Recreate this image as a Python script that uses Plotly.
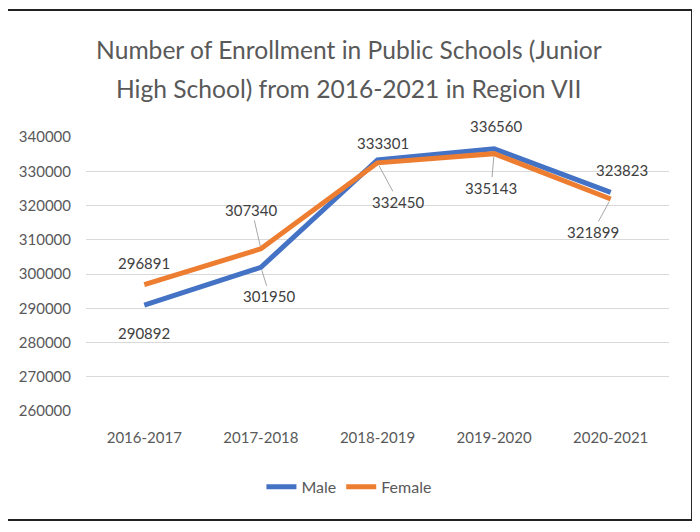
import plotly.graph_objects as go

years = ["2016-2017", "2017-2018", "2018-2019", "2019-2020", "2020-2021"]
male = [290892, 301950, 333301, 336560, 323823]
female = [296891, 307340, 332450, 335143, 321899]

y_ticks = [260000, 270000, 280000, 290000, 300000, 310000, 320000, 330000, 340000]

title_line1 = "Number of Enrollment in Public Schools (Junior"
title_line2 = "High School) from 2016-2021 in Region VII"

# label offsets from the point (px) and whether a leader line is drawn
male_dx = [0, 9, 5, 2, 11]
male_dy = [28, 29, -17, -23, -22]
male_leader = [False, True, False, False, False]
female_dx = [0, -9, 21, -3, -18]
female_dy = [-22, -39, 39, 34, 33]
female_leader = [False, True, True, True, True]

BLUE = "#4472C4"
ORANGE = "#ED7D31"
FONT = "Lato"
CENTER = 0.451  # frame centre in paper units

fig = go.Figure()
fig.add_trace(go.Scatter(x=years, y=male, mode="lines", name="Male",
                         line=dict(color=BLUE, width=5)))
fig.add_trace(go.Scatter(x=years, y=female, mode="lines", name="Female",
                         line=dict(color=ORANGE, width=5)))


def add_labels(values, dxs, dys, leaders):
    for yr, v, dx, dy, lead in zip(years, values, dxs, dys, leaders):
        if lead:
            fig.add_annotation(x=yr, y=v, text=str(v), showarrow=True,
                               ax=dx, ay=dy, arrowhead=0, arrowwidth=1,
                               arrowcolor="#A6A6A6", standoff=3,
                               font=dict(family=FONT, size=15, color="#404040"))
        else:
            fig.add_annotation(x=yr, y=v, text=str(v), showarrow=False,
                               xshift=dx, yshift=-dy,
                               font=dict(family=FONT, size=15, color="#404040"))


add_labels(male, male_dx, male_dy, male_leader)
add_labels(female, female_dx, female_dy, female_leader)

# second title line (Excel-style wide line spacing)
fig.add_annotation(xref="paper", yref="paper", x=CENTER, y=1.1788,
                   xanchor="center", yanchor="middle", showarrow=False,
                   text=title_line2, font=dict(family=FONT, size=24.6, color="#595959"))

# chart frame
fig.add_shape(type="rect", xref="paper", yref="paper",
              x0=-0.137, x1=1.0395, y0=-0.398, y1=1.4635,
              line=dict(color="#222222", width=2))

# the page adds an 8px body margin, so margins are shifted to compensate
fig.update_layout(
    width=700, height=532,
    margin=dict(l=78, r=39, t=129, b=129),
    paper_bgcolor="white", plot_bgcolor="white",
    font=dict(family=FONT, color="#595959"),
    title=dict(text=title_line1, x=CENTER, xanchor="center",
               xref="paper", y=0.921, yanchor="middle",
               font=dict(family=FONT, size=24.6, color="#595959")),
    xaxis=dict(range=[-0.5, 4.5], showgrid=False, showline=False, ticks="",
               ticklabelstandoff=16, tickfont=dict(size=15, color="#595959")),
    yaxis=dict(range=[260000, 340000], tickvals=y_ticks, showgrid=True,
               gridcolor="#D9D9D9", gridwidth=1, zeroline=False, showline=False,
               ticks="", ticklabelstandoff=14, tickformat="d",
               tickfont=dict(size=15, color="#595959")),
    legend=dict(orientation="h", x=CENTER, xanchor="center", y=-0.277, yanchor="middle",
                font=dict(size=16, color="#595959")),
    showlegend=True,
)

fig.write_html("out.html")
